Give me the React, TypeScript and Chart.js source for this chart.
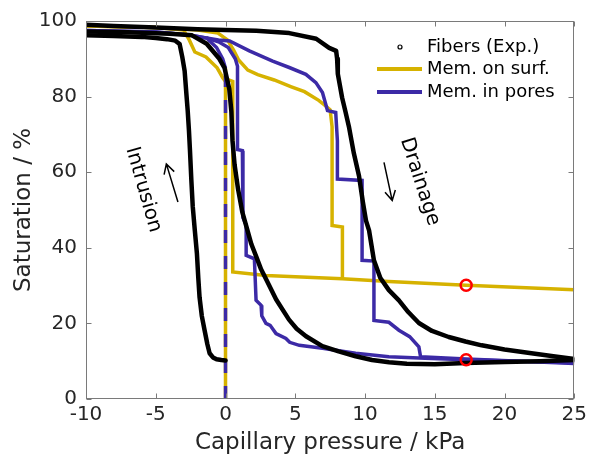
import { useEffect, useRef } from "react";
import { Chart, registerables } from "chart.js";

Chart.register(...registerables);

const FONT = "'DejaVu Sans', 'Liberation Sans', sans-serif";
const TEXT = "#262626";
const YELLOW = "#d6b200";
const BLUE = "#3c2aa6";

const seriesNames = ["Fibers (Exp.)", "Mem. on surf.", "Mem. in pores"];
const xTicks = [-10, -5, 0, 5, 10, 15, 20, 25];
const yTicks = [0, 20, 40, 60, 80, 100];

// Experimental fibers (black markers)
const fibersIntrusion: number[][] = [
  [-10, 96.2], [-8, 96], [-6, 95.8], [-5, 95.5], [-4.2, 95.2], [-3.6, 94.8], [-3.29, 93.9],
  [-3.1, 90.5], [-2.93, 86.8], [-2.8, 80.5], [-2.71, 76.3], [-2.62, 71], [-2.55, 66],
  [-2.45, 58], [-2.35, 51], [-2.2, 44.6], [-2.05, 38.5], [-1.95, 32], [-1.86, 26.9],
  [-1.7, 22], [-1.5, 18.2], [-1.3, 14.5], [-1.14, 12.1], [-0.9, 11], [-0.64, 10.5],
  [-0.3, 10.3], [0, 10.2],
];
const fibersDrainageInner: number[][] = [
  [-10, 97.2], [-7, 97], [-4, 96.6], [-2.4, 96.2], [-1.35, 94], [-0.44, 90], [-0.07, 87.6],
  [0.27, 82], [0.42, 76], [0.5, 68.4], [0.65, 62], [0.9, 55.5], [1.2, 49.5], [1.57, 44.7],
  [1.85, 41], [2.21, 37.6], [2.55, 34.3], [2.92, 31.6], [3.63, 26.3], [4.55, 21], [5.1, 18.6],
  [5.77, 16.6], [6.94, 14], [8.11, 12.6], [9.33, 11.3], [10.5, 10.3], [11.72, 9.7], [13, 9.3],
  [15, 9.2], [17.2, 9.5], [20, 9.8], [22.5, 10], [25, 10.3],
];
const fibersDrainageOuter: number[][] = [
  [-10, 99], [-8, 98.7], [-5, 98.3], [-2, 97.8], [0, 97.6], [2.2, 97.4], [4.57, 96.8],
  [6.5, 95.3], [7.43, 92.9], [7.93, 92.1], [8.0, 90], [8.05, 86], [8.36, 79.7], [8.6, 76],
  [8.86, 71.8], [9.2, 65], [9.57, 59], [9.85, 52], [10.07, 47.2], [10.29, 44.6], [10.64, 36.7],
  [11.1, 32], [11.71, 28.8], [12.43, 26.1], [13.1, 23], [13.86, 20.1], [14.8, 18], [16, 16.4],
  [17.2, 15.2], [18.36, 14.2], [20, 13.1], [21.93, 12.1], [23.5, 11.3], [25, 10.6],
];

// Membrane on surface model (yellow)
const surfIntrusion: number[][] = [
  [-10, 98.7], [-5, 98.3], [-3, 97.6], [-2.6, 95], [-2.2, 91.8], [-1.4, 90.5], [-0.6, 87.6],
  [-0.2, 85], [0, 84],
];
const surfDrainageInner: number[][] = [
  [-0.2, 85], [0.52, 84], [0.52, 33.6], [2.9, 32.7], [8.38, 31.8], [11.71, 31.1],
  [17.25, 30.1], [25, 28.9],
];
const surfDrainageOuter: number[][] = [
  [-10, 98.7], [-5, 98.3], [-2, 97.6], [-0.54, 96.8], [0.14, 95], [0.58, 92.3], [0.94, 89.7],
  [1.6, 87], [2.31, 85.8], [3.49, 84.4], [4.72, 82.6], [5.66, 81.3], [6.68, 79], [7.09, 77.8],
  [7.5, 76.5], [7.64, 72], [7.64, 45.9], [8.38, 45.5], [8.38, 31.8],
];

// Membrane in pores model (blue)
const poresIntrusion: number[][] = [
  [-10, 97.5], [-5, 97.1], [-2.6, 96.3], [-1.36, 95.5], [-0.64, 93], [-0.2, 90], [0, 87.5],
];
const poresDrainageInner: number[][] = [
  [-1.36, 95.5], [-0.5, 94.5], [0.2, 93], [0.7, 90], [0.86, 88], [0.86, 66], [1.21, 65.7],
  [1.25, 48], [1.48, 46], [1.48, 38], [2.07, 37.1], [2.19, 26.1], [2.55, 24.8], [2.6, 22],
  [2.9, 20], [3.2, 19.5], [3.62, 17.3], [4.33, 16], [4.6, 15], [5.29, 14.2], [6.95, 13.4],
  [9.33, 12.1], [11.71, 11.2], [14.3, 10.8], [17.25, 10.4], [25, 9.6],
];
const poresDrainageOuter: number[][] = [
  [-10, 97.5], [-5, 97.1], [-2.6, 96.3], [-1.36, 95.5], [-0.5, 95], [0.29, 94.7], [1.71, 92.1],
  [3.38, 89.4], [4.57, 87.7], [5.76, 85.9], [6.48, 83.7], [6.95, 81.1], [7.31, 76.3],
  [7.9, 75.8], [8.02, 68.3], [8.02, 58.2], [9.79, 57.8], [9.79, 36.7], [10.64, 36.5],
  [10.64, 20.8], [11.71, 20.3], [12.43, 18.2], [13.2, 16.5], [13.86, 13.8], [13.98, 11.2],
  [17.25, 10.55], [25, 9.4],
];

// Shared vertical intrusion at zero pressure (dashed yellow/blue)
const zeroPressureLine: number[][] = [[0, 0], [0, 87.5]];
// Highlighted points (red circles)
const markedPoints: number[][] = [[17.25, 30.1], [17.25, 10.4]];

const annotationTexts = ["Intrusion", "Drainage"];
const annotationAnchors: number[][] = [[-5.89, 55.4], [13.93, 57.5]];
const annotationAngles = [74, 72];
const arrowStarts: number[][] = [[-3.41, 52.1], [11.36, 62.6]];
const arrowEnds: number[][] = [[-4.24, 62.2], [11.95, 52.5]];

const toXY = (pts: number[][]) => pts.map(([x, y]) => ({ x, y }));

const decorPlugin = {
  id: "decor",
  afterDatasetsDraw(chart: any) {
    const { ctx, scales } = chart;
    const xs = scales.x;
    const ys = scales.y;
    ctx.save();
    ctx.fillStyle = "#000";
    ctx.strokeStyle = "#000";
    ctx.font = `20px ${FONT}`;
    ctx.textAlign = "center";
    ctx.textBaseline = "middle";
    annotationTexts.forEach((t, i) => {
      const px = xs.getPixelForValue(annotationAnchors[i][0]);
      const py = ys.getPixelForValue(annotationAnchors[i][1]);
      ctx.save();
      ctx.translate(px, py);
      ctx.rotate((annotationAngles[i] * Math.PI) / 180);
      ctx.fillText(t, 0, 0);
      ctx.restore();
    });
    ctx.lineWidth = 1.5;
    arrowStarts.forEach((s, i) => {
      const x0 = xs.getPixelForValue(s[0]);
      const y0 = ys.getPixelForValue(s[1]);
      const x1 = xs.getPixelForValue(arrowEnds[i][0]);
      const y1 = ys.getPixelForValue(arrowEnds[i][1]);
      const ang = Math.atan2(y1 - y0, x1 - x0);
      const L = 11;
      const spread = 0.5;
      ctx.beginPath();
      ctx.moveTo(x0, y0);
      ctx.lineTo(x1, y1);
      ctx.moveTo(x1 - L * Math.cos(ang - spread), y1 - L * Math.sin(ang - spread));
      ctx.lineTo(x1, y1);
      ctx.lineTo(x1 - L * Math.cos(ang + spread), y1 - L * Math.sin(ang + spread));
      ctx.stroke();
    });
    ctx.restore();
  },
  afterDraw(chart: any) {
    const { ctx, chartArea, scales } = chart;
    const { left, right, top, bottom } = chartArea;
    ctx.save();
    ctx.strokeStyle = "#7a7a7a";
    ctx.lineWidth = 1;
    const l = Math.round(left) + 0.5;
    const r = Math.round(right) - 0.5;
    const t = Math.round(top) + 0.5;
    const b = Math.round(bottom) - 0.5;
    ctx.strokeRect(l, t, r - l, b - t);
    const tl = 5;
    ctx.beginPath();
    xTicks.forEach((v) => {
      const px = Math.round(scales.x.getPixelForValue(v)) + 0.5;
      ctx.moveTo(px, b);
      ctx.lineTo(px, b - tl);
      ctx.moveTo(px, t);
      ctx.lineTo(px, t + tl);
    });
    yTicks.forEach((v) => {
      const py = Math.round(scales.y.getPixelForValue(v)) + 0.5;
      ctx.moveTo(l, py);
      ctx.lineTo(l + tl, py);
      ctx.moveTo(r, py);
      ctx.lineTo(r - tl, py);
    });
    ctx.stroke();

    // legend
    const rows = [47, 69, 92];
    const lx0 = 377;
    const lx1 = 422;
    const tx = 427;
    ctx.font = `18px ${FONT}`;
    ctx.fillStyle = "#000";
    ctx.textAlign = "left";
    ctx.textBaseline = "middle";
    ctx.beginPath();
    ctx.arc((lx0 + lx1) / 2 + 0.5, rows[0], 2, 0, Math.PI * 2);
    ctx.lineWidth = 1.2;
    ctx.strokeStyle = "#000";
    ctx.stroke();
    ctx.lineWidth = 4;
    ctx.lineCap = "butt";
    ctx.strokeStyle = YELLOW;
    ctx.beginPath();
    ctx.moveTo(lx0, rows[1]);
    ctx.lineTo(lx1, rows[1]);
    ctx.stroke();
    ctx.strokeStyle = BLUE;
    ctx.beginPath();
    ctx.moveTo(lx0, rows[2]);
    ctx.lineTo(lx1, rows[2]);
    ctx.stroke();
    seriesNames.forEach((n, i) => ctx.fillText(n, tx, rows[i]));
    ctx.restore();
  },
};

export default function App() {
  const ref = useRef<HTMLCanvasElement | null>(null);
  useEffect(() => {
    document.body.style.margin = "0";
    const canvas = ref.current;
    if (!canvas) return;
    const line = (pts: number[][], color: string, width: number, extra: any = {}) => ({
      data: toXY(pts),
      borderColor: color,
      backgroundColor: color,
      borderWidth: width,
      pointRadius: 0,
      fill: false,
      tension: 0,
      showLine: true,
      ...extra,
    });
    const fib = { borderJoinStyle: "round", borderCapStyle: "round" };
    const chart = new Chart(canvas, {
      type: "line",
      data: {
        datasets: [
          {
            data: toXY(markedPoints),
            showLine: false,
            pointRadius: 5.5,
            pointBorderWidth: 2.5,
            pointBorderColor: "#ff0000",
            pointBackgroundColor: "rgba(0,0,0,0)",
            borderColor: "#ff0000",
          },
          line(fibersIntrusion, "#000", 4.5, fib),
          line(fibersDrainageInner, "#000", 4.5, fib),
          line(fibersDrainageOuter, "#000", 4.5, fib),
          line(zeroPressureLine, BLUE, 3.5, { borderDash: [13, 13] }),
          line(poresIntrusion, BLUE, 3.5),
          line(poresDrainageInner, BLUE, 3.5),
          line(poresDrainageOuter, BLUE, 3.5),
          line(zeroPressureLine, YELLOW, 3.5),
          line(surfIntrusion, YELLOW, 3.5),
          line(surfDrainageInner, YELLOW, 3.5),
          line(surfDrainageOuter, YELLOW, 3.5),
        ] as any,
      },
      options: {
        animation: false,
        responsive: false,
        devicePixelRatio: 1,
        layout: { padding: { top: 20, right: 15, left: 0, bottom: 0 } },
        plugins: { legend: { display: false }, tooltip: { enabled: false } },
        scales: {
          x: {
            type: "linear",
            min: -10,
            max: 25,
            afterBuildTicks: (s: any) => {
              s.ticks = xTicks.map((v) => ({ value: v }));
            },
            ticks: { font: { family: FONT, size: 20 }, color: TEXT, padding: 4, maxRotation: 0, autoSkip: false },
            grid: { display: false, drawTicks: false },
            border: { display: false },
            title: {
              display: true,
              text: "Capillary pressure / kPa",
              font: { family: FONT, size: 23 },
              color: TEXT,
              padding: { top: 0, bottom: 3 },
            },
            afterFit: (s: any) => {
              s.height = 61;
            },
          },
          y: {
            type: "linear",
            min: 0,
            max: 100,
            afterBuildTicks: (s: any) => {
              s.ticks = yTicks.map((v) => ({ value: v }));
            },
            ticks: { font: { family: FONT, size: 20 }, color: TEXT, padding: 9 },
            grid: { display: false, drawTicks: false },
            border: { display: false },
            title: {
              display: true,
              text: "Saturation / %",
              font: { family: FONT, size: 23 },
              color: TEXT,
              padding: { top: 10, bottom: 0 },
            },
            afterFit: (s: any) => {
              s.width = 86;
            },
          },
        },
      } as any,
      plugins: [decorPlugin],
    });
    return () => chart.destroy();
  }, []);
  return (
    <div style={{ position: "absolute", left: 0, top: 0, width: 591, height: 460, background: "#fff" }}>
      <canvas ref={ref} width={591} height={460} style={{ display: "block" }} />
    </div>
  );
}
